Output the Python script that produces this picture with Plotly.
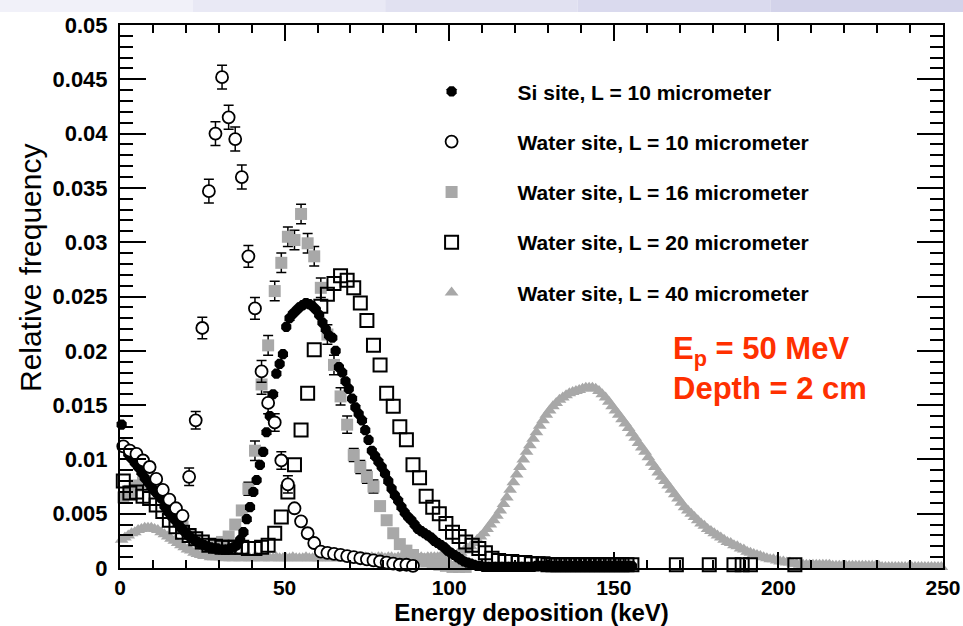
import numpy as np
import plotly.graph_objects as go

# ---------------- data ----------------
# Si site, L = 10 micrometer (1 keV bins, centres 0.5 ... 155.5)
si_x = np.arange(0.5, 156.0, 1.0)
si_y = [
    0.0132, 0.0112, 0.0105, 0.0101, 0.0097, 0.0093, 0.0088, 0.0083, 0.0079, 0.0075,
    0.0071, 0.0068, 0.0064, 0.0057, 0.0052, 0.0048, 0.0045, 0.0041, 0.0037, 0.0034,
    0.0031, 0.0028, 0.0026, 0.0024, 0.0022, 0.0021, 0.0020, 0.0019, 0.0018, 0.0018,
    0.0017, 0.0017, 0.0017, 0.0018, 0.0019, 0.0021, 0.0026, 0.0033, 0.0045, 0.0056,
    0.0070, 0.0081, 0.0095, 0.0107, 0.0125, 0.0140, 0.0160, 0.0179, 0.0188, 0.0197,
    0.0222, 0.0230, 0.0234, 0.0237, 0.0240, 0.0242, 0.0244, 0.0243, 0.0241, 0.0238,
    0.0233, 0.0226, 0.0220, 0.0214, 0.0212, 0.0200, 0.0185, 0.0180, 0.0172, 0.0165,
    0.0156, 0.0148, 0.0142, 0.0136, 0.0127, 0.0118, 0.0108, 0.0103, 0.0098, 0.0093,
    0.0087, 0.0080, 0.0073, 0.0067, 0.0062, 0.0056, 0.0051, 0.0047, 0.0044, 0.0040,
    0.0036, 0.0034, 0.0032, 0.0030, 0.0028, 0.0025, 0.0023, 0.0021, 0.0019, 0.0016,
    0.0014, 0.0012, 0.0010, 0.0008, 0.0006, 0.0005, 0.0004, 0.0003, 0.0002, 0.0002,
    0.0001, 0.0001, 0.0001, 0.0001, 0.0001, 0.0001, 0.0001, 0.0001, 0.0001, 0.0001,
    0.0001, 0.0001, 0.0001, 0.0001, 0.0001, 0.0001, 0.0002, 0.0002, 0.0002, 0.0002,
    0.0002, 0.0002, 0.0002, 0.0002, 0.0002, 0.0002, 0.0002, 0.0002, 0.0002, 0.0002,
    0.0002, 0.0002, 0.0002, 0.0002, 0.0002, 0.0002, 0.0002, 0.0002, 0.0002, 0.0002,
    0.0002, 0.0002, 0.0002, 0.0002, 0.0002, 0.0002,
]

# Water site, L = 10 micrometer (2 keV bins)
w10_x = list(range(1, 90, 2))
w10_y = [
    0.0112, 0.0108, 0.0105, 0.0099, 0.0093, 0.0082, 0.0072, 0.0063, 0.0055, 0.0048,
    0.0084, 0.0136, 0.0221, 0.0347, 0.0400, 0.0452, 0.0415, 0.0395, 0.0360, 0.0287,
    0.0239, 0.0181, 0.0152, 0.0134, 0.0099, 0.0077, 0.0055, 0.0043, 0.0032, 0.0023,
    0.0015, 0.0014, 0.0013, 0.0012, 0.0011, 0.0010, 0.0009, 0.0008, 0.0007, 0.0006,
    0.0005, 0.0004, 0.0003, 0.0003, 0.0002,
]
w10_err = [
    0.0, 0.0, 0.0, 0.0, 0.0, 0.0, 0.0, 0.0, 0.0, 0.0,
    0.0008, 0.0008, 0.0010, 0.0011, 0.0011, 0.0011, 0.0011, 0.0011, 0.0011, 0.0010,
    0.0010, 0.0010, 0.0010, 0.0008, 0.0008, 0.0008, 0.0, 0.0, 0.0, 0.0,
    0.0, 0.0, 0.0, 0.0, 0.0, 0.0, 0.0, 0.0, 0.0, 0.0,
    0.0, 0.0, 0.0, 0.0, 0.0,
]

# Water site, L = 16 micrometer (2 keV bins)
w16_x = list(range(1, 106, 2))
w16_y = [
    0.0065, 0.0071, 0.0076, 0.0079, 0.0079, 0.0075, 0.0067, 0.0057, 0.0047, 0.0038,
    0.0031, 0.0026, 0.0022, 0.0020, 0.0021, 0.0024, 0.0029, 0.0040, 0.0053, 0.0073,
    0.0108, 0.0169, 0.0205, 0.0255, 0.0281, 0.0305, 0.0302, 0.0326, 0.0299, 0.0287,
    0.0258, 0.0215, 0.0187, 0.0158, 0.0132, 0.0104, 0.0093, 0.0084, 0.0075, 0.0057,
    0.0044, 0.0032, 0.0022, 0.0016, 0.0012, 0.0008, 0.0006, 0.0004, 0.0003, 0.0002,
    0.0001, 0.0001, 0.0001,
]
w16_err = [
    0.0, 0.0, 0.0, 0.0, 0.0, 0.0, 0.0, 0.0, 0.0, 0.0,
    0.0, 0.0, 0.0, 0.0, 0.0, 0.0, 0.0, 0.0, 0.0, 0.0006,
    0.0009, 0.0009, 0.0009, 0.0009, 0.0009, 0.0009, 0.0009, 0.0009, 0.0009, 0.0009,
    0.0009, 0.0009, 0.0009, 0.0008, 0.0008, 0.0006, 0.0006, 0.0006, 0.0006, 0.0,
    0.0, 0.0, 0.0, 0.0, 0.0, 0.0, 0.0, 0.0, 0.0, 0.0,
    0.0, 0.0, 0.0,
]

# Water site, L = 20 micrometer
w20_x = [
    1, 3, 5, 7, 9, 11, 13, 15, 17, 19,
    21, 23, 25, 27, 29, 31, 33, 35, 37, 39,
    41, 43, 45, 47, 49, 51, 53, 55, 57, 59,
    61, 63, 65, 67, 69, 71, 73, 75, 77, 79,
    81, 83, 85, 87, 89, 91, 93, 95, 97, 99,
    101, 103, 105, 107, 109, 111, 113, 115, 117, 119,
    121, 123, 125, 127, 128.5, 130, 131.5, 133, 134.5, 136,
    137.5, 139, 140.5, 142, 143.5, 145, 146.5, 148, 149.5, 151,
    152.5, 154, 155.5, 169, 179, 186.5, 189, 191.5, 205,
]
w20_y = [
    0.0080, 0.0069, 0.0070, 0.0066, 0.0064, 0.0058, 0.0052, 0.0044, 0.0038, 0.0033,
    0.0030, 0.0027, 0.0024, 0.0021, 0.0020, 0.0019, 0.0019, 0.0019, 0.0019, 0.0018,
    0.0018, 0.0019, 0.0021, 0.0032, 0.0047, 0.0070, 0.0095, 0.0127, 0.0161, 0.0201,
    0.0241, 0.0252, 0.0262, 0.0269, 0.0265, 0.0258, 0.0244, 0.0228, 0.0205, 0.0187,
    0.0161, 0.0149, 0.0130, 0.0118, 0.0095, 0.0083, 0.0066, 0.0056, 0.0050, 0.0041,
    0.0033, 0.0029, 0.0024, 0.0021, 0.0018, 0.0014, 0.0009, 0.0007, 0.0006, 0.0006,
    0.0005, 0.0005, 0.0004, 0.0004, 0.0004, 0.0003, 0.0003, 0.0003, 0.0003, 0.0003,
    0.0003, 0.0003, 0.0003, 0.0003, 0.0003, 0.0003, 0.0003, 0.0003, 0.0003, 0.0003,
    0.0003, 0.0003, 0.0003, 0.0003, 0.0003, 0.0003, 0.0003, 0.0003, 0.0003,
]

# Water site, L = 40 micrometer (1 keV bins, centres 0.5 ... 249.5)
w40_x = np.arange(0.5, 250.0, 1.0)
w40_y = [
    0.0026, 0.0028, 0.0030, 0.0032, 0.0033, 0.0035, 0.0036, 0.0037, 0.0037, 0.0037,
    0.0036, 0.0035, 0.0033, 0.0031, 0.0029, 0.0027, 0.0025, 0.0023, 0.0021, 0.0019,
    0.0017, 0.0016, 0.0014, 0.0013, 0.0012, 0.0011, 0.0011, 0.0010, 0.0010, 0.0010,
    0.0010, 0.0009, 0.0010, 0.0009, 0.0009, 0.0010, 0.0009, 0.0009, 0.0010, 0.0009,
    0.0009, 0.0010, 0.0009, 0.0009, 0.0010, 0.0009, 0.0009, 0.0010, 0.0009, 0.0009,
    0.0009, 0.0009, 0.0010, 0.0009, 0.0009, 0.0009, 0.0010, 0.0009, 0.0009, 0.0009,
    0.0009, 0.0010, 0.0009, 0.0009, 0.0009, 0.0010, 0.0009, 0.0009, 0.0010, 0.0009,
    0.0009, 0.0010, 0.0009, 0.0009, 0.0010, 0.0009, 0.0010, 0.0009, 0.0010, 0.0010,
    0.0009, 0.0010, 0.0010, 0.0009, 0.0010, 0.0010, 0.0009, 0.0010, 0.0010, 0.0010,
    0.0010, 0.0010, 0.0009, 0.0010, 0.0010, 0.0010, 0.0010, 0.0011, 0.0010, 0.0011,
    0.0011, 0.0012, 0.0013, 0.0014, 0.0016, 0.0018, 0.0020, 0.0023, 0.0026, 0.0029,
    0.0032, 0.0036, 0.0040, 0.0044, 0.0048, 0.0053, 0.0059, 0.0065, 0.0072, 0.0079,
    0.0086, 0.0093, 0.0100, 0.0107, 0.0113, 0.0119, 0.0125, 0.0131, 0.0136, 0.0141,
    0.0145, 0.0149, 0.0152, 0.0155, 0.0157, 0.0159, 0.0161, 0.0162, 0.0163, 0.0164,
    0.0165, 0.0166, 0.0166, 0.0166, 0.0165, 0.0163, 0.0160, 0.0157, 0.0153, 0.0149,
    0.0145, 0.0141, 0.0137, 0.0133, 0.0129, 0.0124, 0.0120, 0.0115, 0.0111, 0.0107,
    0.0102, 0.0097, 0.0093, 0.0088, 0.0084, 0.0080, 0.0076, 0.0072, 0.0068, 0.0064,
    0.0060, 0.0056, 0.0053, 0.0050, 0.0047, 0.0044, 0.0041, 0.0039, 0.0036, 0.0034,
    0.0032, 0.0030, 0.0028, 0.0026, 0.0024, 0.0023, 0.0021, 0.0020, 0.0018, 0.0017,
    0.0015, 0.0014, 0.0013, 0.0012, 0.0011, 0.0010, 0.0009, 0.0008, 0.0008, 0.0007,
    0.0006, 0.0006, 0.0005, 0.0005, 0.0004, 0.0004, 0.0003, 0.0003, 0.0003, 0.0003,
    0.0003, 0.0003, 0.0003, 0.0003, 0.0003, 0.0003, 0.0002, 0.0002, 0.0002, 0.0002,
    0.0002, 0.0002, 0.0002, 0.0002, 0.0002, 0.0002, 0.0002, 0.0002, 0.0002, 0.0002,
    0.0002, 0.0001, 0.0001, 0.0001, 0.0001, 0.0001, 0.0001, 0.0001, 0.0001, 0.0001,
    0.0001, 0.0001, 0.0001, 0.0001, 0.0001, 0.0001, 0.0001, 0.0001, 0.0001, 0.0001,
]

series_names = [
    "Si site, L = 10 micrometer",
    "Water site, L = 10 micrometer",
    "Water site, L = 16 micrometer",
    "Water site, L = 20 micrometer",
    "Water site, L = 40 micrometer",
]

x_tickvals = [0, 50, 100, 150, 200, 250]
x_ticktext = ["0", "50", "100", "150", "200", "250"]
y_tickvals = [0, 0.005, 0.01, 0.015, 0.02, 0.025, 0.03, 0.035, 0.04, 0.045, 0.05]
y_ticktext = ["0", "0.005", "0.01", "0.015", "0.02", "0.025", "0.03",
              "0.035", "0.04", "0.045", "0.05"]
x_title = "Energy deposition (keV)"
y_title = "Relative frequency"

# ---------------- styles ----------------
FONT = "Liberation Sans, Arial, sans-serif"
GREY = "#a8a8a8"

fig = go.Figure()

err_style = dict(type="data", color="black", thickness=1.5, width=5, visible=True)

fig.add_trace(go.Scatter(
    x=w40_x, y=w40_y, mode="markers", name=series_names[4], legendgroup="g5",
    legendrank=5,
    marker=dict(symbol="triangle-up", size=12, color=GREY, line=dict(width=0)),
    cliponaxis=False,
))
fig.add_trace(go.Scatter(
    x=w16_x, y=w16_y, mode="markers", name=series_names[2], legendgroup="g3",
    legendrank=3,
    error_y=dict(array=w16_err, **err_style),
    marker=dict(symbol="square", size=12, color=GREY, line=dict(width=0)),
    cliponaxis=False,
))
fig.add_trace(go.Scatter(
    x=w20_x, y=w20_y, mode="markers", name=series_names[3], legendgroup="g4",
    legendrank=4,
    marker=dict(symbol="square-open", size=13, color="black", line=dict(width=2, color="black")),
    cliponaxis=False,
))
fig.add_trace(go.Scatter(
    x=si_x, y=si_y, mode="markers", name=series_names[0], legendgroup="g1",
    legendrank=1,
    marker=dict(symbol="octagon", size=11, color="black", line=dict(width=0)),
    cliponaxis=False,
))
fig.add_trace(go.Scatter(
    x=w10_x, y=w10_y, mode="markers", name=series_names[1], legendgroup="g2",
    legendrank=2,
    error_y=dict(array=w10_err, **err_style),
    marker=dict(symbol="circle", size=12, color="white", line=dict(width=1.8, color="black")),
    cliponaxis=False,
))

# slide header band (background decoration)
band_cols = ["#f1f1f9", "#e9e9f5", "#e1e1f1", "#dadaee", "#d3d3ea"]
top = 1 + 25 / 543
for i, c in enumerate(band_cols):
    fig.add_shape(type="rect", xref="paper", yref="paper",
                  x0=-120 / 823 + i * (963 / 823) / len(band_cols),
                  x1=-120 / 823 + (i + 1) * (963 / 823) / len(band_cols),
                  y0=1 + 13 / 543, y1=top, line=dict(width=0), fillcolor=c, layer="below")

fig.add_annotation(
    xref="paper", yref="paper", x=0.670, y=0.367, xanchor="left", yanchor="middle",
    text="E<sub>p</sub> = 50 MeV<br>Depth = 2 cm", showarrow=False, align="left",
    font=dict(family=FONT, size=31, color="#ff3000", weight="bold"),
)

# y-axis title (placed like the ROOT title, slightly above the axis centre)
fig.add_annotation(
    xref="paper", yref="paper", x=-0.109, y=0.553, xanchor="center", yanchor="middle",
    text=y_title, textangle=-90, showarrow=False,
    font=dict(family=FONT, size=30, color="black"),
)

axis_common = dict(
    showline=True, linecolor="black", linewidth=2, mirror="allticks",
    ticks="inside", tickcolor="black", tickwidth=1.5,
    showgrid=False, zeroline=False, automargin=False,
)

fig.update_layout(
    width=963, height=626,
    margin=dict(l=120, r=20, t=25, b=58),
    paper_bgcolor="white", plot_bgcolor="white",
    font=dict(family=FONT, color="black"),
    xaxis=dict(range=[0, 250], tickmode="array", tickvals=x_tickvals, ticktext=x_ticktext,
               ticklen=16, ticklabelstandoff=0,
               tickfont=dict(family=FONT, size=21, color="black", weight="bold"),
               minor=dict(tick0=0, dtick=10, ticks="inside", ticklen=8, tickwidth=1.5,
                          tickcolor="black"),
               title=dict(text=x_title, standoff=0,
                          font=dict(family=FONT, size=24, color="black", weight="bold")),
               **axis_common),
    yaxis=dict(range=[0, 0.05], tickmode="array", tickvals=y_tickvals, ticktext=y_ticktext,
               ticklen=26, ticklabelstandoff=6,
               tickfont=dict(family=FONT, size=22, color="black", weight="bold"),
               minor=dict(tick0=0, dtick=0.001, ticks="inside", ticklen=13, tickwidth=1.5,
                          tickcolor="black"),
               **axis_common),
    showlegend=True,
    legend=dict(
        x=0.3227, y=0.915, xanchor="left", yanchor="top",
        bgcolor="rgba(0,0,0,0)", borderwidth=0,
        font=dict(family=FONT, size=21, color="black", weight="bold"),
        itemwidth=122, traceorder="grouped", tracegroupgap=20, itemsizing="trace",
    ),
)

fig.write_html("out.html")
